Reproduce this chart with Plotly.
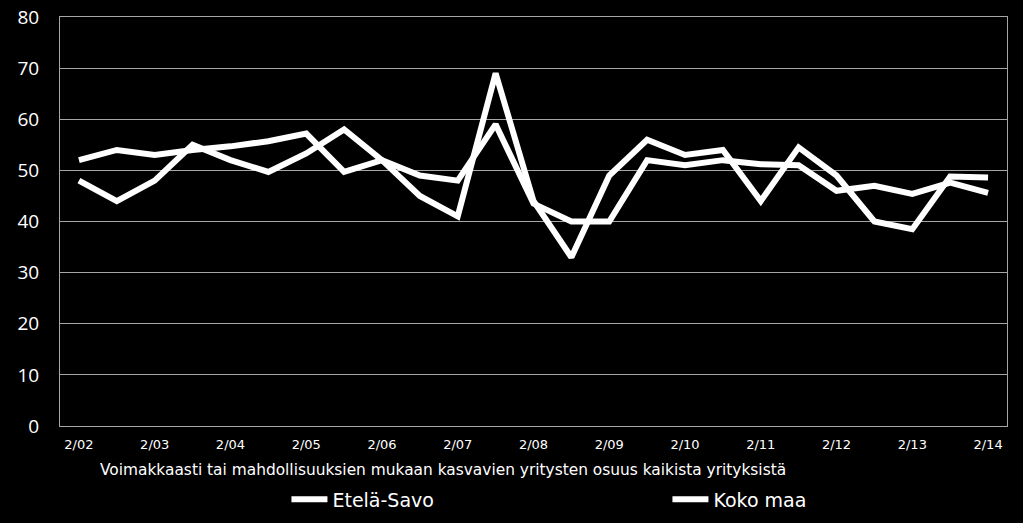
import plotly.graph_objects as go

categories = ["2/02", "8/02", "2/03", "8/03", "2/04", "8/04", "2/05", "8/05", "2/06", "8/06",
              "2/07", "8/07", "2/08", "8/08", "2/09", "8/09", "2/10", "8/10", "2/11", "8/11",
              "2/12", "8/12", "2/13", "8/13", "2/14"]
etela_savo = [48, 44, 48, 55, 52, 49.7, 53.3, 58, 52, 45, 41, 69, 44, 33, 49, 56, 53, 54,
              44, 54.5, 49, 40, 38.5, 48.8, 48.6]
koko_maa = [52, 54, 53, 54, 54.7, 55.7, 57.2, 49.7, 52, 49, 48, 59, 43.5, 40, 40, 52, 51, 52,
            51.2, 51, 46, 47, 45.4, 47.6, 45.6]
tick_labels = categories[::2]
y_ticks = [0, 10, 20, 30, 40, 50, 60, 70, 80]
axis_title = "Voimakkaasti tai mahdollisuuksien mukaan kasvavien yritysten osuus kaikista yrityksistä"

side_font = "DejaVu Sans, Verdana, sans-serif"

fig = go.Figure()
fig.add_trace(go.Scatter(x=categories, y=etela_savo, mode="lines", name="Etelä-Savo",
                         line=dict(color="white", width=6)))
fig.add_trace(go.Scatter(x=categories, y=koko_maa, mode="lines", name="Koko maa",
                         line=dict(color="white", width=6)))

fig.update_layout(
    width=1023, height=523,
    paper_bgcolor="black", plot_bgcolor="black",
    margin=dict(l=60, r=16, t=17, b=97, autoexpand=False),
    font=dict(family="Open Sans, sans-serif", color="white"),
    xaxis=dict(type="category", tickvals=tick_labels, ticktext=tick_labels,
               showgrid=False, showline=True, linecolor="#a6a6a6", linewidth=1, mirror=True,
               tickfont=dict(family=side_font, size=13, color="white"),
               ticks="", ticklen=0, range=[-0.5, len(categories) - 0.5],
               ticklabelstandoff=6),
    yaxis=dict(range=[0, 80], tickvals=y_ticks, showgrid=True, gridcolor="#a6a6a6", gridwidth=1,
               showline=True, linecolor="#a6a6a6", linewidth=1, mirror=True, zeroline=False,
               tickfont=dict(family="Open Sans, sans-serif", size=19, color="white"), ticks="",
               ticklabelstandoff=16),
    showlegend=True,
    legend=dict(orientation="h", xref="container", yref="container", x=0.28, y=0.045,
                xanchor="left", yanchor="middle", entrywidth=330, entrywidthmode="pixels",
                font=dict(family=side_font, size=19, color="white"),
                bgcolor="rgba(0,0,0,0)", itemwidth=36, tracegroupgap=0),
    annotations=[dict(text=axis_title, xref="paper", yref="paper", x=0.404, y=-0.108,
                      xanchor="center", yanchor="middle", showarrow=False,
                      font=dict(family=side_font, size=15.4, color="white"))],
)

fig.write_html("out.html", config={"displayModeBar": False},
               post_script="document.body.style.margin='0';document.body.style.background='black';")
